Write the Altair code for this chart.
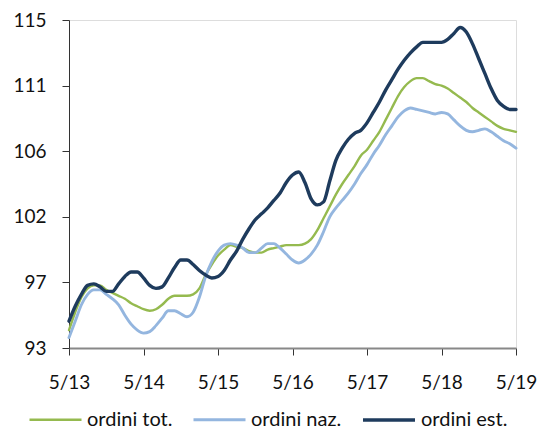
import altair as alt
import pandas as pd

series_names = ["ordini tot.", "ordini naz.", "ordini est."]
colors = ["#95ba4f", "#94b6df", "#1e3b5d"]

# monthly observations, May 2013 .. May 2019 (73 months)
ordini_tot = [94.2, 95.4, 96.4, 97.0, 97.2, 97.2, 96.9, 96.7, 96.5, 96.3,
              96.0, 95.8, 95.6, 95.5, 95.6, 95.9, 96.3, 96.5, 96.5, 96.5,
              96.6, 97.0, 97.9, 98.6, 99.2, 99.6, 99.9, 99.8, 99.7, 99.5,
              99.4, 99.4, 99.6, 99.7, 99.8, 99.9, 99.9, 99.9, 100.0, 100.3,
              100.9, 101.7, 102.5, 103.3, 104.0, 104.6, 105.2, 105.9, 106.3, 106.9,
              107.5, 108.3, 109.1, 109.9, 110.5, 110.9, 111.1, 111.1, 110.9, 110.7,
              110.6, 110.4, 110.1, 109.8, 109.5, 109.1, 108.8, 108.5, 108.2, 107.9,
              107.7, 107.6, 107.5]
ordini_naz = [93.7, 94.8, 95.9, 96.6, 96.9, 96.9, 96.6, 96.3, 95.9, 95.2,
              94.6, 94.2, 94.0, 94.1, 94.5, 95.0, 95.5, 95.5, 95.3, 95.1,
              95.4, 96.4, 97.8, 98.8, 99.5, 99.9, 100.0, 99.9, 99.7, 99.4,
              99.4, 99.7, 100.0, 100.0, 99.7, 99.3, 98.9, 98.7, 98.9, 99.3,
              99.9, 100.8, 101.8, 102.4, 102.9, 103.4, 104.0, 104.7, 105.3, 106.0,
              106.6, 107.3, 107.9, 108.5, 108.9, 109.1, 109.0, 108.9, 108.8, 108.7,
              108.8, 108.7, 108.3, 107.9, 107.6, 107.5, 107.6, 107.7, 107.5, 107.2,
              106.9, 106.7, 106.4]
ordini_est = [94.8, 95.8, 96.6, 97.2, 97.3, 97.1, 96.8, 96.8, 97.3, 97.8,
              98.1, 98.1, 97.7, 97.2, 97.0, 97.1, 97.7, 98.4, 98.9, 98.9,
              98.6, 98.2, 97.9, 97.7, 97.8, 98.2, 98.9, 99.5, 100.3, 101.0,
              101.6, 102.0, 102.4, 102.9, 103.4, 104.1, 104.6, 104.8, 104.1, 103.0,
              102.6, 102.8, 104.2, 105.6, 106.4, 107.0, 107.4, 107.6, 108.1, 108.8,
              109.5, 110.3, 111.0, 111.7, 112.3, 112.8, 113.2, 113.5, 113.5, 113.5,
              113.5, 113.7, 114.1, 114.5, 114.2, 113.4, 112.4, 111.4, 110.4, 109.6,
              109.2, 109.0, 109.0]

y_ticks = [93, 97.4, 101.8, 106.2, 110.6, 115]
x_tick_months = [0, 12, 24, 36, 48, 60, 72]

rows = []
for name, vals in zip(series_names, [ordini_tot, ordini_naz, ordini_est]):
    for i, v in enumerate(vals):
        rows.append({"serie": name, "m": i, "v": v, "ord": series_names.index(name)})
df = pd.DataFrame(rows)

chart = alt.Chart(df).mark_line(strokeCap="round", strokeJoin="round",
                                interpolate="monotone").encode(
    x=alt.X("m:Q",
            scale=alt.Scale(domain=[0, 72], nice=False, zero=False),
            axis=alt.Axis(values=x_tick_months, title=None, grid=False,
                          labelExpr="'5/' + (13 + round(datum.value / 12))",
                          labelFlush=False, labelOverlap=False,
                          domainColor="#888888", domainWidth=2,
                          tickColor="#333333", tickSize=7, tickWidth=1,
                          labelFontSize=19, labelPadding=18, labelColor="#111111",
                          labelFont="Lato")),
    y=alt.Y("v:Q",
            scale=alt.Scale(domain=[93, 115], nice=False, zero=False),
            axis=alt.Axis(values=y_ticks, title=None, grid=False, format=".0f",
                          labelFlush=False, labelOverlap=False,
                          domainColor="#333333", domainWidth=1,
                          tickColor="#333333", tickSize=7, tickWidth=1,
                          labelFontSize=19, labelPadding=16, labelColor="#111111",
                          labelFont="Lato")),
    color=alt.Color("serie:N",
                    scale=alt.Scale(domain=series_names, range=colors),
                    sort=series_names,
                    legend=alt.Legend(title=None, orient="none", direction="horizontal",
                                      legendX=-41, legendY=372,
                                      symbolType="stroke", symbolSize=2704,
                                      symbolStrokeWidth=3, labelFontSize=20,
                                      labelFont="Lato", labelColor="#111111",
                                      labelOffset=4, columnPadding=14, padding=0)),
    strokeWidth=alt.StrokeWidth("serie:N",
                                scale=alt.Scale(domain=series_names, range=[2.4, 3.4, 2.4]),
                                legend=None),
    order=alt.Order("ord:Q"),
).properties(
    width=447, height=328,
    padding={"left": 61, "top": 12, "right": 21, "bottom": 83},
    autosize=alt.AutoSizeParams(type="none"),
).configure_view(stroke=None).configure(background="white")

chart.save("out.html", embed_options={"renderer": "svg", "actions": False})
